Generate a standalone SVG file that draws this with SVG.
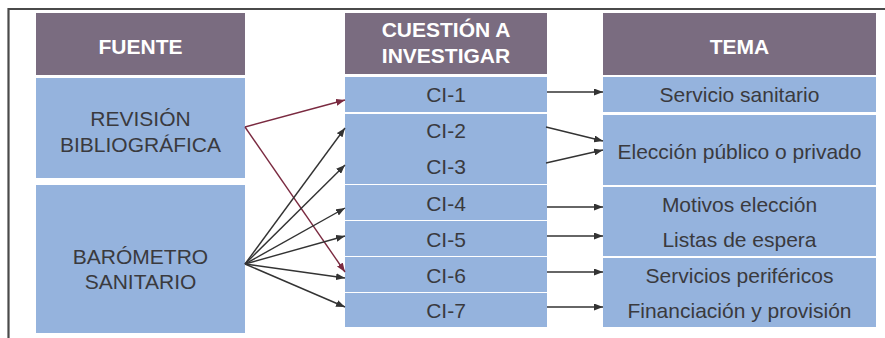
<svg xmlns="http://www.w3.org/2000/svg" width="885" height="338" viewBox="0 0 885 338">
<defs>
<style>
.hd{fill:#7a6c80}
.bx{fill:#95b3dd}
.ht{font-family:"Liberation Sans",Arial,sans-serif;font-size:21px;font-weight:bold;fill:#ffffff;text-anchor:middle}
.tx{font-family:"Liberation Sans",Arial,sans-serif;font-size:21px;fill:#3a3a3e;text-anchor:middle}
.k{stroke:#333333;stroke-width:1.4;fill:none;marker-end:url(#ak)}
.r{stroke:#7a2a40;stroke-width:1.4;fill:none;marker-end:url(#ar)}
</style>
<marker id="ak" markerWidth="9" markerHeight="7" refX="9" refY="3.5" orient="auto" markerUnits="userSpaceOnUse"><path d="M0,0 L9,3.5 L0,7 Z" fill="#333333"/></marker>
<marker id="ar" markerWidth="9" markerHeight="7" refX="9" refY="3.5" orient="auto" markerUnits="userSpaceOnUse"><path d="M0,0 L9,3.5 L0,7 Z" fill="#7a2a40"/></marker>
</defs>
<rect width="885" height="338" fill="#ffffff"/>
<path d="M8.5,338 L8.5,9 L885,9" fill="none" stroke="#4a4a4a" stroke-width="2.2"/>
<g id="h-fuente"><rect class="hd" x="36" y="13" width="209" height="62"/><text class="ht" x="140.5" y="54">FUENTE</text></g>
<g id="h-cuestion"><rect class="hd" x="345" y="13" width="202" height="61"/><text class="ht" x="446" y="37">CUESTIÓN A</text><text class="ht" x="446" y="63">INVESTIGAR</text></g>
<g id="h-tema"><rect class="hd" x="603" y="13" width="273" height="62"/><text class="ht" x="739.5" y="54">TEMA</text></g>
<g id="revision"><rect class="bx" x="36" y="78" width="209" height="100"/><text class="tx" x="140.5" y="126">REVISIÓN</text><text class="tx" x="140.5" y="152">BIBLIOGRÁFICA</text></g>
<g id="barometro"><rect class="bx" x="36" y="185" width="209" height="148"/><text class="tx" x="140.5" y="264">BARÓMETRO</text><text class="tx" x="140.5" y="289">SANITARIO</text></g>
<g id="ci1"><rect class="bx" x="345" y="77" width="202" height="35"/><text class="tx" x="446" y="102">CI-1</text></g>
<g id="ci23"><rect class="bx" x="345" y="114" width="202" height="70"/><text class="tx" x="446" y="138">CI-2</text><text class="tx" x="446" y="174">CI-3</text></g>
<g id="ci4"><rect class="bx" x="345" y="185" width="202" height="35"/><text class="tx" x="446" y="211">CI-4</text></g>
<g id="ci5"><rect class="bx" x="345" y="221" width="202" height="35"/><text class="tx" x="446" y="247">CI-5</text></g>
<g id="ci6"><rect class="bx" x="345" y="257" width="202" height="35"/><text class="tx" x="446" y="283">CI-6</text></g>
<g id="ci7"><rect class="bx" x="345" y="293" width="202" height="34"/><text class="tx" x="446" y="318">CI-7</text></g>
<g id="t-servicio"><rect class="bx" x="603" y="77" width="273" height="35"/><text class="tx" x="739.5" y="102">Servicio sanitario</text></g>
<g id="t-eleccion"><rect class="bx" x="603" y="115" width="273" height="70"/><text class="tx" x="739.5" y="159">Elección público o privado</text></g>
<g id="t-motivos"><rect class="bx" x="603" y="187" width="273" height="69"/><text class="tx" x="739.5" y="212">Motivos elección</text><text class="tx" x="739.5" y="247">Listas de espera</text></g>
<g id="t-servicios"><rect class="bx" x="603" y="258" width="273" height="69"/><text class="tx" x="739.5" y="283">Servicios periféricos</text><text class="tx" x="739.5" y="318">Financiación y provisión</text></g>
<g id="connectors">
<path class="r" d="M245,127 L345,100"/>
<path class="r" d="M245,127 L345,272"/>
<path class="k" d="M245,264 L345,128"/>
<path class="k" d="M245,264 L345,165"/>
<path class="k" d="M245,264 L345,208"/>
<path class="k" d="M245,264 L345,236"/>
<path class="k" d="M245,264 L345,278"/>
<path class="k" d="M245,264 L345,307"/>
<path class="k" d="M547,92 L603,92"/>
<path class="k" d="M546,127 L603,141"/>
<path class="k" d="M546,163 L603,150"/>
<path class="k" d="M547,207 L603,207"/>
<path class="k" d="M547,236 L603,236"/>
<path class="k" d="M547,272 L603,272"/>
<path class="k" d="M547,307 L603,307"/>
</g>
</svg>
